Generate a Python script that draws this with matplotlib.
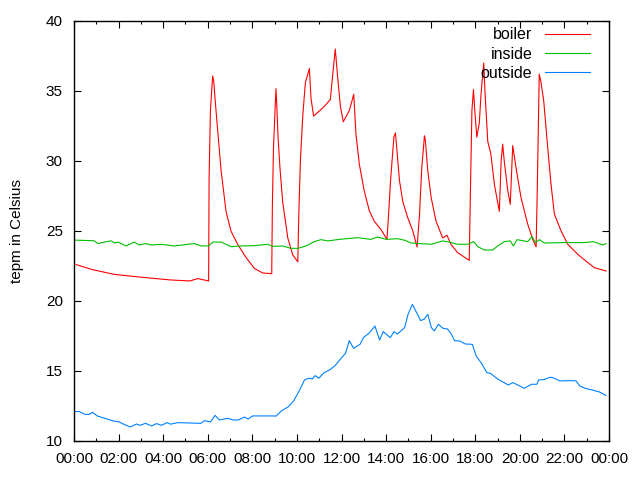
import matplotlib
matplotlib.use("Agg")
import matplotlib.pyplot as plt
from matplotlib.ticker import MultipleLocator, FuncFormatter

# boiler (red) - hours / degC
boiler_h = [0.09, 0.8, 1.8, 3.0, 4.35, 5.2, 5.55, 6.04, 6.06, 6.12, 6.22, 6.27, 6.33, 6.45, 6.6, 6.82, 7.04, 7.34, 7.72, 8.09, 8.46, 8.87,
            8.9, 8.95, 9.06, 9.1, 9.15, 9.24, 9.36, 9.59, 9.81, 10.04,
            10.08, 10.16, 10.27, 10.38, 10.56, 10.63, 10.75, 11.23, 11.5, 11.6, 11.72, 11.83, 11.95,
            12.08, 12.35, 12.55, 12.65, 12.8, 13.02, 13.25, 13.47, 13.77, 14.04,
            14.12, 14.2, 14.35, 14.42, 14.5, 14.6, 14.75, 14.97, 15.2, 15.39,
            15.5, 15.6, 15.72, 15.76, 15.87, 16.02, 16.24, 16.54, 16.73, 16.91, 17.21, 17.73,
            17.78, 17.85, 17.92, 17.97, 18.07, 18.18, 18.26, 18.38, 18.44, 18.56, 18.7, 18.86, 19.08,
            19.16, 19.23, 19.3, 19.46, 19.57, 19.68, 19.83, 20.05, 20.35, 20.58, 20.73,
            20.77, 20.82, 20.87, 20.94, 21.07, 21.25, 21.4, 21.55, 21.85, 22.15, 22.6, 23.05, 23.34, 23.87]
boiler_t = [22.6, 22.25, 21.9, 21.7, 21.5, 21.43, 21.6, 21.43, 28.7, 33.6, 36.07, 35.7, 34.4, 32.1, 29.3, 26.4, 25.0, 24.05, 23.1, 22.33, 22.0, 21.95,
            26.9, 31.0, 35.16, 33.9, 31.8, 29.5, 27.1, 24.5, 23.3, 22.8,
            25.9, 30.2, 33.4, 35.6, 36.6, 34.5, 33.2, 33.9, 34.4, 36.07, 38.0, 35.95, 33.9,
            32.8, 33.6, 34.76, 31.9, 29.76, 27.86, 26.43, 25.7, 25.1, 24.4,
            26.4, 28.6, 31.7, 32.0, 30.5, 28.6, 27.1, 25.95, 25.0, 23.86,
            26.2, 29.5, 31.8, 31.5, 29.3, 27.4, 25.7, 24.5, 24.7, 24.05, 23.45, 22.9,
            27.6, 33.6, 35.1, 33.8, 31.7, 32.7, 34.8, 37.0, 34.8, 31.4, 30.5, 28.3, 26.4,
            30.0, 31.2, 30.0, 27.86, 26.9, 31.1, 29.5, 27.4, 25.5, 24.4, 23.86,
            27.0, 31.5, 36.2, 35.7, 34.3, 30.95, 28.3, 26.2, 25.0, 24.05, 23.33, 22.74, 22.38, 22.14]

# inside (green)
inside_h = [0.0, 0.91, 1.06, 1.66, 1.8, 2.0, 2.33, 2.7, 2.93, 3.2, 3.5, 3.9, 4.5, 5.4, 5.7, 6.04, 6.22, 6.6, 7.04, 7.5, 8.09, 8.69, 8.9, 9.36,
            9.74, 10.04, 10.41, 10.78, 11.08, 11.38, 11.9, 12.73, 13.32, 13.62, 14.0, 14.52, 14.85, 15.12, 16.02,
            16.54, 16.82, 17.21, 17.66, 17.93, 18.11, 18.41, 18.78, 19.01, 19.3, 19.57, 19.71, 19.87, 20.35, 20.55,
            20.7, 20.88, 21.1, 22.0, 22.9, 23.3, 23.72, 23.87]
inside_t = [24.35, 24.3, 24.1, 24.3, 24.15, 24.2, 23.93, 24.2, 24.0, 24.1, 24.0, 24.05, 23.93, 24.1, 23.93, 23.93, 24.21, 24.21, 23.88, 23.93, 23.95, 24.05, 23.9, 23.93,
            23.76, 23.76, 23.93, 24.24, 24.38, 24.29, 24.4, 24.52, 24.4, 24.57, 24.4, 24.45, 24.33, 24.14, 24.05,
            24.29, 24.21, 24.05, 24.05, 24.24, 23.88, 23.64, 23.64, 23.93, 24.24, 24.29, 23.93, 24.38, 24.24, 24.6,
            24.17, 24.38, 24.14, 24.17, 24.17, 24.24, 24.0, 24.1]

# outside (blue)
outside_h = [0.0, 0.24, 0.48, 0.7, 0.83, 1.04, 1.52, 1.76, 2.0, 2.24, 2.52, 2.8, 2.96, 3.21, 3.49, 3.7, 3.93, 4.17, 4.33, 4.65,
             5.69, 5.85, 6.12, 6.33, 6.52, 6.89, 7.13, 7.37, 7.65, 7.81, 8.02, 8.5, 8.98, 9.06, 9.3, 9.62, 9.86,
             10.1, 10.34, 10.53, 10.69, 10.82, 10.98, 11.22, 11.46, 11.7, 11.94, 12.18, 12.35, 12.54, 12.83, 12.99,
             13.23, 13.5, 13.71, 13.87, 14.19, 14.35, 14.51, 14.83, 14.99, 15.18, 15.55, 15.71, 15.87, 16.03, 16.16,
             16.35, 16.55, 16.75, 16.91, 17.07, 17.31, 17.55, 17.87, 18.04, 18.28, 18.52, 18.68, 19.0, 19.48, 19.69,
             20.2, 20.52, 20.76, 20.84, 21.08, 21.35, 21.48, 21.8, 22.28, 22.52, 22.69, 22.93, 23.25, 23.57, 23.86]
outside_t = [12.1, 12.1, 11.9, 11.9, 12.05, 11.79, 11.55, 11.43, 11.38, 11.19, 11.0, 11.21, 11.12, 11.26, 11.07, 11.24, 11.12, 11.31, 11.2, 11.31,
             11.26, 11.45, 11.36, 11.83, 11.5, 11.62, 11.5, 11.5, 11.71, 11.57, 11.79, 11.79, 11.79, 11.77, 12.14, 12.45, 12.88,
             13.57, 14.36, 14.48, 14.43, 14.67, 14.48, 14.88, 15.07, 15.36, 15.83, 16.26, 17.17, 16.62, 16.9, 17.4,
             17.69, 18.21, 17.21, 17.81, 17.38, 17.81, 17.64, 18.1, 19.07, 19.76, 18.6, 18.7, 19.05, 18.1, 17.86,
             18.33, 18.05, 18.0, 17.69, 17.17, 17.14, 16.93, 16.9, 16.07, 15.55, 14.88, 14.83, 14.43, 14.0, 14.17,
             13.76, 14.05, 14.05, 14.36, 14.38, 14.55, 14.52, 14.29, 14.31, 14.29, 13.93, 13.76, 13.64, 13.5, 13.26]

plt.rcParams['font.family'] = ['Liberation Sans', 'DejaVu Sans']

fig = plt.figure(figsize=(6.4, 4.8), dpi=100, facecolor='w')
ax = fig.add_axes([0.1156, 0.0813, 0.836, 0.875])

ax.plot(boiler_h, boiler_t, color='#ff0000', lw=0.8, label='boiler')
ax.plot(inside_h, inside_t, color='#00c000', lw=0.8, label='inside')
ax.plot(outside_h, outside_t, color='#0080ff', lw=0.8, label='outside')

ax.set_xlim(0, 24)
ax.set_ylim(10, 40)
ax.xaxis.set_major_locator(MultipleLocator(2))
ax.xaxis.set_minor_locator(MultipleLocator(1))
ax.xaxis.set_major_formatter(FuncFormatter(lambda v, p: "%02d:00" % (int(round(v)) % 24)))
ax.yaxis.set_major_locator(MultipleLocator(5))
ax.tick_params(which='both', direction='in', top=True, right=True, labelsize=11, width=0.8)
ax.tick_params(which='major', length=5, pad=8)
ax.tick_params(which='minor', length=2.5)
for s in ax.spines.values():
    s.set_linewidth(1.0)

ax.set_ylabel('tepm in Celsius', fontsize=11, labelpad=16)

ax.legend(loc='upper right', bbox_to_anchor=(0.964, 0.985), frameon=False, markerfirst=False,
          fontsize=11.5, handlelength=2.8, handletextpad=0.8, labelspacing=0.27, borderpad=0, borderaxespad=0)

fig.savefig('out.png', dpi=100)
